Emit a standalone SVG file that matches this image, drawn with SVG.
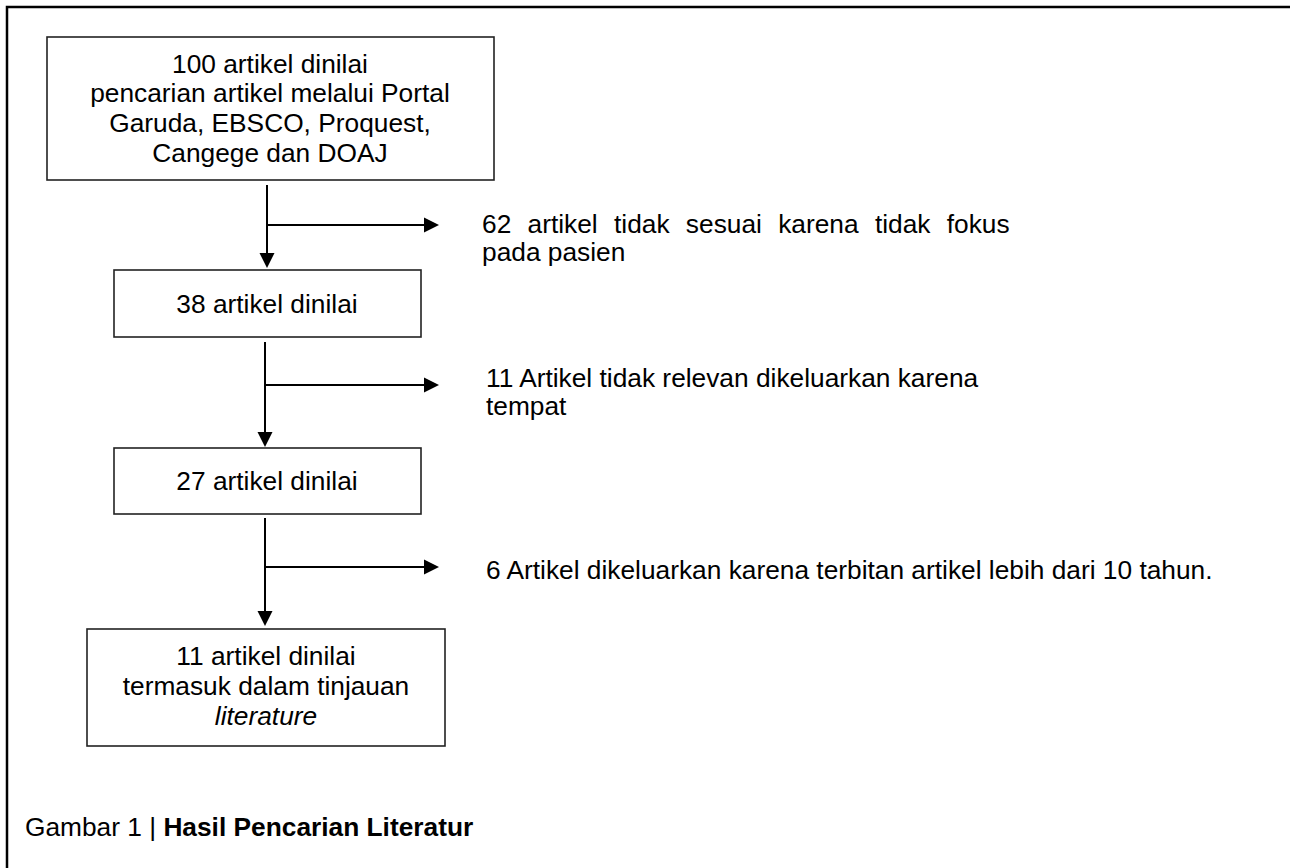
<svg xmlns="http://www.w3.org/2000/svg" width="1290" height="868" viewBox="0 0 1290 868">
<defs>
<style>
text{font-family:"Liberation Sans",Arial,sans-serif;font-size:26.3px;fill:#000}
.c{text-anchor:middle}
.box{fill:#fff;stroke:#222;stroke-width:1.6}
.ln{stroke:#000;stroke-width:2;fill:none}
.hd{fill:#000}
</style>
</defs>
<rect width="1290" height="868" fill="#fff"/>
<path d="M7,868 V7 H1290" fill="none" stroke="#000" stroke-width="2.5"/>
<g id="connectors">
<path class="ln" d="M267,185 V254"/><path class="hd" d="M259.5,253 L274.5,253 L267,268 Z"/>
<path class="ln" d="M267,225 H425"/><path class="hd" d="M424,217.5 L439,225 L424,232.5 Z"/>
<path class="ln" d="M265,342 V433"/><path class="hd" d="M257.5,432 L272.5,432 L265,447 Z"/>
<path class="ln" d="M265,385 H425"/><path class="hd" d="M424,377.5 L439,385 L424,392.5 Z"/>
<path class="ln" d="M265,518 V612"/><path class="hd" d="M257.5,611 L272.5,611 L265,626 Z"/>
<path class="ln" d="M265,567 H425"/><path class="hd" d="M424,559.5 L439,567 L424,574.5 Z"/>
</g>
<g id="n1">
<rect class="box" x="47" y="37" width="447" height="143"/>
<text class="c" x="270" y="72.5">100 artikel dinilai</text>
<text class="c" x="270" y="102.3">pencarian artikel melalui Portal</text>
<text class="c" x="270" y="132">Garuda, EBSCO, Proquest,</text>
<text class="c" x="270" y="161.7">Cangege dan DOAJ</text>
</g>
<g id="n2">
<rect class="box" x="114" y="270" width="307" height="67"/>
<text class="c" x="267" y="313">38 artikel dinilai</text>
</g>
<g id="n3">
<rect class="box" x="114" y="448" width="307" height="66"/>
<text class="c" x="267" y="490">27 artikel dinilai</text>
</g>
<g id="n4">
<rect class="box" x="87" y="629" width="358" height="117"/>
<text class="c" x="266" y="665">11 artikel dinilai</text>
<text class="c" x="266" y="695">termasuk dalam tinjauan</text>
<text class="c" x="266" y="725" font-style="italic">literature</text>
</g>
<g id="e1">
<text x="482" y="233" word-spacing="9">62 artikel tidak sesuai karena tidak fokus</text>
<text x="482" y="261">pada pasien</text>
</g>
<g id="e2">
<text x="486" y="387">11 Artikel tidak relevan dikeluarkan karena</text>
<text x="486" y="415">tempat</text>
</g>
<g id="e3">
<text x="486" y="579">6 Artikel dikeluarkan karena terbitan artikel lebih dari 10 tahun.</text>
</g>
<g id="caption">
<text x="25" y="836">Gambar 1 | <tspan font-weight="bold">Hasil Pencarian Literatur</tspan></text>
</g>
</svg>
